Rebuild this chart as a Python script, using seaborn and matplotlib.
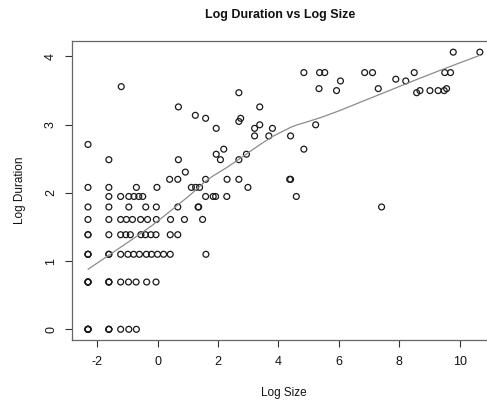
import numpy as np
import pandas as pd
import matplotlib
matplotlib.use("Agg")
import matplotlib.pyplot as plt
import seaborn as sns

# Observations: log of event size and log of event duration.
# Several small events share identical values and sit on top of each other.
log_size = [
    -2.30, -2.30, -2.30, -2.30, -2.30, -1.61, -1.61, -1.61, -1.22, -0.95, -0.70,
    -2.30, -2.30, -2.30, -2.30, -1.61, -1.61, -1.61, -1.22, -0.96, -0.71, -0.36, -0.05,
    -2.30, -2.30, -2.30, -1.61, -1.61, -1.22, -0.98, -0.79, -0.60, -0.37, -0.20, 0.00,
    0.20, 0.42, 1.60,
    -2.30, -2.30, -1.61, -1.22, -1.05, -0.90, -0.55, -0.40, -0.22, -0.05, 0.42, 0.67,
    -2.30, -1.61, -1.22, -1.03, -0.83, -0.56, -0.33, -0.04, 0.43, 0.89, 1.49,
    -2.30, -1.61, -0.95, -0.39, -0.04, 0.67, 1.34, 1.36, 7.41,
    -1.61, -1.22, -0.95, -0.78, -0.62, -0.49, 1.59, 1.84, 1.92, 2.29, 4.59,
    -2.30, -1.61, -0.70, -0.02, 1.12, 1.26, 1.39, 2.99,
    0.40, 0.67, 1.59, 2.30, 2.69, 4.37, 4.40,
    0.92,
    -1.61, 0.69, 2.08, 2.69,
    1.94, 2.94,
    2.19, 4.84,
    -2.30,
    3.21, 3.68, 4.40,
    1.94, 3.21, 3.80,
    3.38, 5.23,
    2.69,
    1.59, 2.75,
    1.25,
    0.69, 3.38,
    2.69, 8.57,
    5.92, 8.68, 9.01, 9.28, 9.48,
    5.34, 7.30, 9.56,
    -1.20,
    6.05, 8.21,
    7.88,
    4.84, 5.36, 5.53, 6.85, 7.11, 8.49, 9.50, 9.69,
    9.78, 10.66,
]
log_duration = (
    [0.000] * 11 + [0.693] * 12 + [1.099] * 15 + [1.386] * 12 + [1.609] * 11
    + [1.792] * 9 + [1.946] * 11 + [2.079] * 8 + [2.197] * 7 + [2.303] * 1
    + [2.485] * 4 + [2.565] * 2 + [2.639] * 2 + [2.708] * 1 + [2.833] * 3
    + [2.944] * 3 + [2.996] * 2 + [3.045] * 1 + [3.091] * 2 + [3.135] * 1
    + [3.258] * 2 + [3.466] * 2 + [3.497] * 5 + [3.526] * 3 + [3.555] * 1
    + [3.638] * 2 + [3.664] * 1 + [3.761] * 8 + [4.060] * 2
)

x_ticks = [-2, 0, 2, 4, 6, 8, 10]
y_ticks = [0, 1, 2, 3, 4]


def lowess(x, y, f=2.0 / 3.0, iters=3):
    """Locally weighted linear smoother (Cleveland's LOWESS)."""
    order = np.argsort(x, kind="mergesort")
    x = np.asarray(x, float)[order]
    y = np.asarray(y, float)[order]
    n = len(x)
    ns = max(2, min(n, int(f * n + 1e-7)))
    rw = np.ones(n)
    fit = np.zeros(n)
    for it in range(iters + 1):
        for i in range(n):
            d = np.abs(x - x[i])
            h = np.sort(d)[ns - 1]
            w = np.zeros(n)
            if h > 0:
                r = d / h
                inside = r <= 0.999
                w[inside] = (1 - r[inside] ** 3) ** 3
                w[d <= 0.001 * h] = 1.0
            else:
                w[d == 0] = 1.0
            w *= rw
            sw = w.sum()
            if sw <= 0:
                fit[i] = y[i]
                continue
            xm = (w * x).sum() / sw
            ym = (w * y).sum() / sw
            sxx = (w * (x - xm) ** 2).sum()
            if sxx > 1e-12 * (x[-1] - x[0]) ** 2:
                b = (w * (x - xm) * (y - ym)).sum() / sxx
            else:
                b = 0.0
            fit[i] = ym + b * (x[i] - xm)
        if it == iters:
            break
        res = y - fit
        cmad = 6 * np.median(np.abs(res))
        if cmad < 1e-7:
            break
        u = np.abs(res) / cmad
        rw = np.where(u < 1, (1 - u ** 2) ** 2, 0.0)
    return x, fit


df = pd.DataFrame({"log_size": log_size, "log_duration": log_duration})
sx, sy = lowess(df["log_size"].values, df["log_duration"].values)
smooth = pd.DataFrame({"log_size": sx, "log_duration": sy})

sns.set_theme(style="white")
plt.rcParams["font.family"] = ["Liberation Sans", "DejaVu Sans"]

fig = plt.figure(figsize=(4.87, 4.08), dpi=100)
ax = fig.add_axes([0.1485, 0.1657, 0.869, 0.7336])

sns.scatterplot(data=df, x="log_size", y="log_duration", ax=ax,
                marker="o", s=18, facecolor="none", edgecolor="#1a1a1a",
                linewidth=0.9)
sns.lineplot(data=smooth, x="log_size", y="log_duration", ax=ax,
             estimator=None, sort=True, color="#8c8c8c", linewidth=0.9)

xr = max(log_size) - min(log_size)
yr = max(log_duration) - min(log_duration)
ax.set_xlim(min(log_size) - 0.04 * xr, max(log_size) + 0.04 * xr)
ax.set_ylim(min(log_duration) - 0.04 * yr, max(log_duration) + 0.04 * yr)

ax.set_xticks(x_ticks)
ax.set_yticks(y_ticks)
ax.set_xticklabels([str(t) for t in x_ticks], fontsize=9)
ax.set_yticklabels([str(t) for t in y_ticks], fontsize=9, rotation=90,
                   va="center")
ax.tick_params(axis="both", direction="out", length=5, width=0.8,
               color="#333333", labelcolor="#111111", pad=6,
               bottom=True, left=True)
for side in ax.spines.values():
    side.set_visible(True)
    side.set_color("#666666")
    side.set_linewidth(0.9)

ax.set_xlabel("Log Size", fontsize=8.5, labelpad=14, color="#111111")
ax.set_ylabel("Log Duration", fontsize=8.5, labelpad=14, color="#111111")
fig.text(0.575, 0.963, "Log Duration vs Log Size", ha="center", va="center",
         fontsize=9, fontweight="bold", color="#111111")

fig.savefig("out.png", dpi=100)
